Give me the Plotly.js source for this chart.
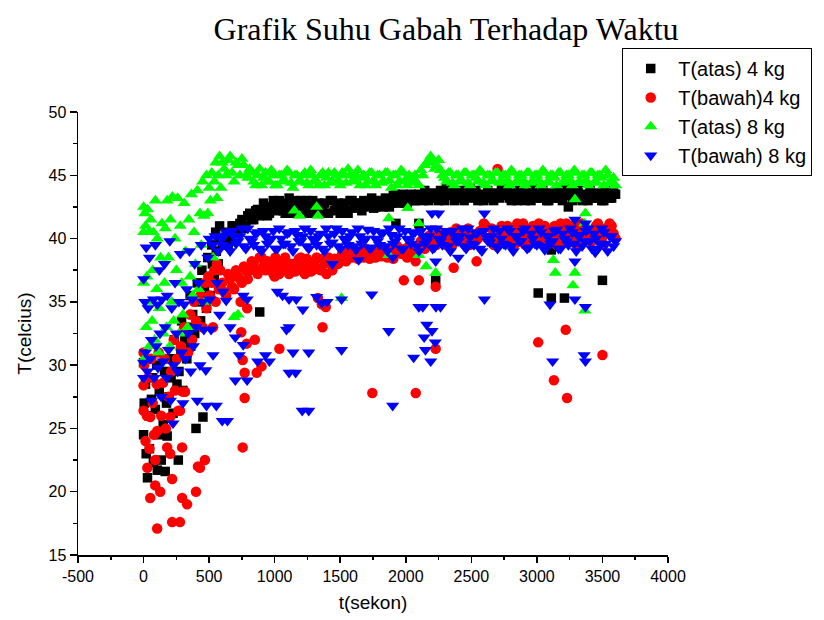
<!DOCTYPE html>
<html><head><meta charset="utf-8">
<script src="https://cdn.plot.ly/plotly-3.0.1.min.js"></script>
<style>html,body{margin:0;padding:0;background:#fff}#chart{width:824px;height:620px}</style>
</head><body><div id="chart"></div>
<script>
// shared time axes for the steady part (seconds)
const tLate = [
 600,630,660,690,720,750,780,810,840,870,
 900,930,960,990,1020,1050,1080,1110,1140,1170,
 1200,1230,1260,1290,1320,1350,1380,1410,1440,1470,
 1500,1530,1560,1590,1620,1650,1680,1710,1740,1770,
 1800,1830,1860,1890,1920,1950,1980,2010,2040,2070,
 2100,2130,2160,2190,2220,2250,2280,2310,2340,2370,
 2400,2430,2460,2490,2520,2550,2580,2610,2640,2670,
 2700,2730,2760,2790,2820,2850,2880,2910,2940,2970,
 3000,3030,3060,3090,3120,3150,3180,3210,3240,3270,
 3300,3330,3360,3390,3420,3450,3480,3510,3540,3570,
 3600];
const tLate2 = [
 615,645,675,705,735,765,795,825,855,885,
 915,945,975,1005,1035,1065,1095,1125,1155,1185,
 1215,1245,1275,1305,1335,1365,1395,1425,1455,1485,
 1515,1545,1575,1605,1635,1665,1695,1725,1755,1785,
 1815,1845,1875,1905,1935,1965,1995,2025,2055,2085,
 2115,2145,2175,2205,2235,2265,2295,2325,2355,2385,
 2415,2445,2475,2505,2535,2565,2595,2625,2655,2685,
 2715,2745,2775,2805,2835,2865,2895,2925,2955,2985,
 3015,3045,3075,3105,3135,3165,3195,3225,3255,3285,
 3315,3345,3375,3405,3435,3465,3495,3525,3555,3585];

// T(atas) 4 kg
const blackLate = [
 39.5,40.5,40.0,41.0,40.5,41.5,41.0,42.0,41.5,42.3,
 42.0,42.5,42.0,43.0,42.3,42.8,42.0,43.2,42.5,42.0,
 43.0,42.5,42.0,43.0,42.3,42.0,42.8,42.0,43.0,42.5,
 42.0,42.8,42.0,43.0,42.5,42.8,43.0,42.5,43.2,42.5,
 43.0,42.5,43.0,42.8,43.5,43.0,43.5,42.8,43.5,43.0,
 43.5,43.0,43.5,43.2,43.5,43.0,43.5,44.0,43.5,43.0,
 43.5,43.2,43.5,44.0,43.5,43.0,43.5,43.2,43.5,43.0,
 43.5,44.0,43.5,43.2,43.5,43.0,43.5,43.0,43.5,44.0,
 43.5,43.2,43.5,43.0,43.5,43.2,43.5,44.0,43.5,43.0,
 43.5,43.2,43.5,43.0,43.5,43.2,43.5,43.0,43.5,43.2,
 43.5];
const blackLate2 = [
 40.0,39.5,41.0,40.5,41.2,40.8,41.8,41.5,42.2,41.8,
 42.8,41.8,42.5,42.2,43.0,42.2,42.6,42.0,43.0,42.4,
 42.2,43.0,42.4,42.0,42.8,42.5,42.0,43.0,42.2,42.8,
 42.5,42.2,43.0,42.4,42.8,42.2,42.8,43.0,42.4,43.0,
 42.6,43.2,42.5,43.4,42.8,43.2,42.8,43.4,43.0,43.4,
 43.2,43.8,43.0,43.6,43.2,43.8,43.0,43.4,43.8,43.2,
 43.8,43.0,43.6,43.2,43.8,43.4,43.0,43.8,43.2,43.6,
 43.2,43.4,43.8,43.0,43.6,43.8,43.2,43.6,43.0,43.4,
 43.2,43.8,43.0,43.6,43.2,43.8,43.0,43.4,43.8,43.2,
 43.8,43.0,43.4,43.8,43.2,43.6,43.0,43.8,43.2,43.6];
const blackExtraT = [
 0,0,5,15,20,30,40,45,60,70,
 75,90,100,105,120,130,135,150,160,165,
 175,180,195,205,210,225,235,240,255,265,
 270,285,290,300,315,330,345,355,360,375,
 390,400,410,420,435,445,453,465,480,490,
 495,510,520,525,540,550,555,570,580,585,
 886,1925,2100,2228,3010,3110,3210,3500,3110,3240];
const blackExtraV = [
 24.5,30.2,27.0,28.5,23.0,21.1,26.0,23.4,27.3,29.0,
 22.3,26.5,30.0,21.7,28.0,24.5,22.5,25.3,29.5,21.6,
 27.0,24.4,27.5,30.5,29.0,26.2,32.0,30.5,28.5,22.5,
 29.5,31.0,33.5,28.0,32.0,30.5,33.0,35.5,31.5,34.0,
 32.5,25.0,36.5,35.0,33.5,37.5,25.9,36.0,34.5,38.5,
 37.0,35.5,39.5,38.0,37.0,40.5,39.0,38.0,41.0,40.0,
 34.2,41.2,41.2,36.7,35.7,35.3,35.3,36.7,39.1,42.5];

// T(bawah)4 kg
const redLate = [
 36.5,35.5,36.8,36.0,37.0,36.5,37.5,37.5,38.0,37.2,
 38.5,37.5,38.0,37.2,38.0,37.5,38.5,37.2,38.0,37.5,
 38.5,37.2,38.0,37.5,38.5,37.5,38.0,38.5,37.5,38.2,
 38.5,38.5,39.0,38.5,38.8,39.0,38.5,38.8,39.0,38.5,
 39.0,38.8,38.5,39.0,38.8,39.2,39.0,38.5,39.5,39.0,
 39.5,39.5,40.0,39.5,40.2,39.8,40.0,39.5,40.5,40.0,
 39.8,40.5,40.0,39.5,40.2,40.0,40.5,41.0,40.0,39.5,
 40.5,41.0,40.2,39.8,40.5,41.2,40.0,39.5,40.5,41.0,
 40.2,39.8,41.0,40.5,40.0,39.5,41.2,40.5,40.0,41.0,
 39.5,40.2,41.0,40.5,39.8,41.0,40.2,39.5,40.5,41.0,
 40.0];
const redLate2 = [
 35.8,37.2,36.2,37.5,36.8,37.8,36.8,38.2,37.5,38.5,
 37.8,38.2,37.5,38.5,37.2,38.2,37.8,38.0,37.4,38.4,
 37.8,38.4,37.4,38.2,37.6,38.4,37.2,38.0,38.4,38.0,
 38.8,38.2,38.6,39.2,38.4,38.6,39.2,38.4,38.8,39.2,
 38.6,39.2,38.8,38.4,39.4,38.8,39.2,39.4,38.8,39.4,
 39.8,39.2,40.2,39.8,39.5,40.5,39.8,40.2,39.5,40.8,
 40.2,39.6,40.8,40.2,39.8,40.6,41.2,40.0,40.8,40.2,
 39.8,40.6,41.0,40.2,39.6,40.8,41.2,40.2,39.8,40.6,
 41.2,40.0,40.6,39.8,41.0,40.4,39.8,41.2,40.6,40.0,
 40.8,41.2,40.0,39.8,40.6,41.2,40.0,40.8,41.2,40.4];
const redExtraT = [
 0,0,0,5,15,25,29,35,45,51,
 51,60,70,80,89,89,100,104,104,115,
 127,135,149,160,170,180,190,203,203,210,
 218,218,230,240,255,265,278,278,285,294,
 294,301,310,316,332,340,355,370,385,400,
 400,415,430,435,450,468,470,480,495,505,
 520,530,540,550,560,575,585,
 756,756,771,771,787,849,863,900,1036,1000,
 1360,1330,1390,1365,790,740,1745,2076,2228,1985,
 2100,2228,2365,2540,2075,3010,3130,3230,3220,3500,
 2700,745];
const redExtraV = [
 28.4,31.0,26.4,30.0,24.0,26.0,21.9,29.0,23.4,25.9,
 19.5,30.5,27.0,24.5,22.5,20.5,28.5,24.8,17.1,31.0,
 20.0,26.0,28.6,30.5,25.0,23.5,27.5,25.9,23.0,29.5,
 21.0,17.6,32.0,28.0,30.5,26.4,26.4,17.6,31.5,23.5,
 19.5,27.9,33.0,27.9,19.0,31.0,34.0,32.0,35.0,20.0,
 33.5,22.0,21.9,35.5,33.0,22.5,36.5,34.5,37.0,35.5,
 36.5,33.0,37.5,35.0,38.0,36.0,37.5,
 23.5,30.4,27.4,29.4,31.7,32.0,29.4,29.9,31.3,37.0,
 34.8,35.3,34.6,33.0,34.5,35.0,27.8,27.8,31.3,36.7,
 36.7,36.2,37.7,38.2,38.2,31.8,28.8,27.4,32.8,30.8,
 45.5,32.6];

// T(atas) 8 kg
const greenLate = [
 46.0,45.0,46.5,44.5,45.8,46.3,45.0,45.5,44.5,45.0,
 44.2,45.2,44.5,45.0,44.2,45.0,44.5,45.2,44.0,45.0,
 44.5,45.2,44.2,45.0,44.5,45.0,44.2,45.2,44.5,45.0,
 44.2,45.0,45.5,44.5,45.0,44.2,45.0,44.5,45.2,44.2,
 45.0,44.5,45.2,44.0,45.0,44.5,45.2,44.2,44.5,45.0,
 44.2,45.0,46.0,46.5,45.5,46.2,45.0,44.5,45.2,44.2,
 45.0,44.5,45.2,44.2,45.0,44.5,45.2,44.2,45.0,44.5,
 45.2,44.5,45.0,44.2,45.2,44.5,45.0,44.2,45.2,44.5,
 45.0,44.2,45.2,44.5,45.0,44.2,45.2,44.5,45.0,44.2,
 45.2,44.5,45.0,44.2,45.2,44.5,45.0,44.2,45.0,44.5,
 44.2];
const greenLate2 = [
 45.5,46.2,45.2,46.0,45.0,45.8,44.8,45.2,44.2,45.5,
 44.8,44.5,45.4,44.2,45.0,44.6,45.4,44.4,45.0,44.5,
 45.0,44.4,45.4,44.6,44.2,45.2,44.8,44.4,45.2,44.6,
 45.2,44.4,45.0,44.6,45.4,44.8,44.2,45.2,44.6,45.0,
 44.4,45.2,44.6,45.0,44.2,45.4,44.6,45.0,44.8,44.4,
 45.4,45.8,46.2,46.0,45.8,45.4,44.8,45.2,44.4,45.0,
 44.6,45.2,44.4,45.0,44.8,45.4,44.4,45.0,44.6,45.2,
 44.4,45.0,44.6,45.4,44.4,45.0,44.6,45.2,44.4,45.0,
 44.6,45.4,44.4,45.0,44.8,45.2,44.4,45.0,44.6,45.4,
 44.4,45.0,44.6,45.2,44.4,45.0,44.8,45.4,44.4,44.8];
const greenExtraT = [
 0,0,0,5,10,15,20,25,30,40,
 45,50,55,65,70,75,85,90,100,105,
 115,120,130,140,150,160,165,175,180,190,
 200,205,215,220,230,240,250,260,270,280,
 290,300,310,320,335,345,355,365,375,385,
 395,410,420,430,440,450,460,470,480,490,
 500,510,520,530,540,550,560,570,580,590,
 690,720,1510,1870,1870,2015,2100,2100,2155,2228,
 3125,3140,3290,3275,3365,3290,3370,3365,1150,1190,
 1320,1330];
const greenExtraV = [
 42.5,40.5,36.5,30.5,42.0,41.0,33.0,37.0,42.3,40.5,
 31.5,35.0,41.5,33.5,37.5,40.5,32.0,43.0,36.0,40.0,
 31.0,34.5,38.5,41.2,32.5,36.5,40.8,33.0,43.0,38.5,
 31.5,41.5,35.0,43.3,33.5,40.0,37.5,43.2,32.5,41.0,
 36.5,34.0,42.8,39.0,33.0,41.5,37.0,43.5,35.5,40.5,
 38.0,43.8,36.0,42.0,39.5,44.5,41.8,35.0,45.0,42.0,
 44.0,43.0,45.2,38.5,44.5,46.0,43.2,45.0,46.5,44.0,
 33.8,34.0,35.3,38.7,41.6,42.4,38.7,41.2,37.8,37.3,
 38.3,37.3,37.3,36.3,34.3,43.1,42.0,41.2,42.2,41.8,
 42.5,41.8];

// T(bawah) 8 kg
const blueLate = [
 39.5,40.5,39.0,40.2,39.8,40.8,39.2,40.0,39.5,40.5,
 39.0,40.2,39.8,40.6,39.2,40.0,39.6,40.5,39.0,40.3,
 39.8,40.8,39.2,40.0,39.5,40.4,39.0,40.2,39.7,40.8,
 39.2,40.0,39.5,40.5,39.1,40.2,39.8,40.7,39.3,40.0,
 39.5,40.5,39.0,40.3,39.8,40.8,39.2,40.0,39.6,40.5,
 39.0,40.2,39.8,40.8,39.3,40.0,39.5,40.6,39.0,40.2,
 39.8,40.8,39.2,40.1,39.5,40.5,39.0,40.2,39.7,40.8,
 39.2,40.0,39.5,40.6,39.0,40.2,39.8,40.8,39.3,40.0,
 39.5,40.5,39.1,40.2,39.8,40.7,39.2,40.0,39.5,40.5,
 39.0,40.3,39.8,40.8,39.2,40.0,39.6,40.5,39.0,40.2,
 39.8];
const blueLate2 = [
 40.2,39.4,40.6,39.6,40.2,39.4,40.8,39.8,40.4,39.2,
 40.6,39.6,40.0,39.2,40.8,39.6,40.4,39.4,40.6,39.8,
 40.2,39.4,40.6,39.8,40.2,39.2,40.8,39.6,40.4,39.4,
 40.6,39.8,40.2,39.4,40.8,39.6,40.0,39.2,40.6,39.8,
 40.4,39.4,40.8,39.6,40.2,39.2,40.6,39.8,40.4,39.4,
 40.6,39.6,40.2,39.2,40.8,39.8,40.4,39.4,40.6,39.8,
 40.2,39.4,40.8,39.6,40.4,39.2,40.6,39.8,40.2,39.4,
 40.6,39.6,40.8,39.4,40.2,39.8,40.6,39.2,40.4,39.6,
 40.8,39.4,40.2,39.6,40.6,39.2,40.4,39.8,40.8,39.6,
 40.2,39.4,40.6,39.8,40.4,39.2,40.8,39.6,40.2,39.4];
const blueExtraT = [
 0,0,0,10,15,20,30,35,45,50,
 60,60,75,80,90,95,105,110,120,125,
 135,140,150,160,165,175,180,190,200,205,
 215,225,230,240,250,260,270,280,290,300,
 310,320,330,340,350,360,370,380,390,400,
 410,420,430,440,450,460,475,480,490,500,
 505,515,525,530,545,555,560,570,580,590,
 605,630,660,700,730,760,790,760,700,790,
 870,930,960,600,640,1020,1060,1110,1110,1090,
 1165,1215,1140,1260,1110,1160,1210,1260,1320,1360,
 1400,1510,1510,1740,1870,1900,2100,2130,2230,2265,
 2160,2200,2140,2225,2150,2060,2190,2600,2200,2250,
 2600,1900,2228,2400,3120,3370,3360,3100,3290,3370,
 3290,3370,3290,3445,1440,1640];
const blueExtraV = [
 36.8,30.2,29.0,35.0,31.0,39.3,29.5,34.5,38.5,30.5,
 32.0,27.2,35.2,29.0,39.5,31.5,34.8,29.8,37.5,32.5,
 27.5,35.2,30.3,38.0,33.0,29.0,35.5,31.2,39.8,27.2,
 34.5,25.4,30.0,36.5,32.5,29.5,35.0,38.8,31.0,27.0,
 34.8,30.5,36.0,32.5,39.0,29.5,35.2,31.5,38.0,33.0,
 27.2,36.5,30.0,39.5,35.0,32.8,29.6,26.8,38.5,40.0,
 35.2,32.8,39.5,30.8,40.2,26.8,36.5,39.0,34.0,40.0,
 35.8,35.1,33.0,32.2,30.8,35.5,35.2,31.6,28.8,28.8,
 30.3,30.8,30.3,25.6,25.6,35.8,35.5,35.2,33.0,32.8,
 35.2,34.4,31.0,31.0,29.4,29.4,26.4,26.4,35.4,34.9,
 35.0,31.2,35.2,35.6,32.7,26.8,34.6,34.6,34.6,34.6,
 33.2,32.7,32.2,31.8,31.2,30.6,30.3,35.2,42.0,42.0,
 42.0,38.5,38.2,38.5,30.3,30.3,30.8,34.8,35.2,34.6,
 41.5,41.2,38.2,38.9,38.0,38.3];

const seriesNames = ['T(atas) 4 kg', 'T(bawah)4 kg', 'T(atas) 8 kg', 'T(bawah) 8 kg'];

const xTickVals = [-500,0,500,1000,1500,2000,2500,3000,3500,4000];
const xTickText = ['-500','0','500','1000','1500','2000','2500','3000','3500','4000'];
const xMinorVals = [-250,250,750,1250,1750,2250,2750,3250,3750];
const yTickVals = [15,20,25,30,35,40,45,50];
const yTickText = ['15','20','25','30','35','40','45','50'];
const yMinorVals = [17.5,22.5,27.5,32.5,37.5,42.5,47.5];

function makeTrace(name, extraT, extraV, lateV, late2V, symbol, color, size) {
  return {
    type: 'scatter', mode: 'markers', name: name,
    x: extraT.concat(tLate, tLate2), y: extraV.concat(lateV, late2V),
    marker: {symbol: symbol, color: color, size: size, line: {width: 0}},
    cliponaxis: false
  };
}

const data = [
  makeTrace(seriesNames[0], blackExtraT, blackExtraV, blackLate, blackLate2, 'square', '#000000', 9.5),
  makeTrace(seriesNames[1], redExtraT, redExtraV, redLate, redLate2, 'circle', '#FF0000', 10.5),
  makeTrace(seriesNames[2], greenExtraT, greenExtraV, greenLate, greenLate2, 'triangle-up', '#00FF00', 11.5),
  makeTrace(seriesNames[3], blueExtraT, blueExtraV, blueLate, blueLate2, 'triangle-down', '#0000FF', 11.5)
];

const axisCommon = {
  ticks: 'outside', ticklen: 6, tickwidth: 1.5, tickcolor: '#000',
  showline: true, linewidth: 1.5, linecolor: '#000',
  showgrid: false, zeroline: false,
  tickfont: {size: 16, color: '#000'}
};

const layout = {
  width: 824, height: 620,
  margin: {l: 78, r: 153, t: 112, b: 65},
  paper_bgcolor: '#fff', plot_bgcolor: '#fff',
  font: {family: 'Arial, "Liberation Sans", sans-serif', color: '#000'},
  showlegend: true,
  title: {
    text: 'Grafik Suhu Gabah Terhadap Waktu',
    font: {family: '"Times New Roman", "Liberation Serif", serif', size: 32, color: '#000'},
    xref: 'container', x: 0.5413, xanchor: 'center',
    yref: 'container', y: 0.953, yanchor: 'middle'
  },
  xaxis: Object.assign({}, axisCommon, {
    range: [-500, 4000], tickmode: 'array', tickvals: xTickVals, ticktext: xTickText,
    minor: {tickmode: 'array', tickvals: xMinorVals, ticks: 'outside', ticklen: 3.5, tickwidth: 1.5, tickcolor: '#000', showgrid: false},
    title: {text: 't(sekon)', font: {size: 19, color: '#000'}, standoff: 12}
  }),
  yaxis: Object.assign({}, axisCommon, {
    range: [15, 50], tickmode: 'array', tickvals: yTickVals, ticktext: yTickText, ticklen: 7,
    minor: {tickmode: 'array', tickvals: yMinorVals, ticks: 'outside', ticklen: 3.5, tickwidth: 1.5, tickcolor: '#000', showgrid: false},
    title: {text: 'T(celcius)', font: {size: 19, color: '#000'}, standoff: 12}
  }),
  legend: {
    xref: 'paper', yref: 'paper',
    x: 0.9224, y: 1.1445, xanchor: 'left', yanchor: 'top',
    bordercolor: '#000', borderwidth: 1, bgcolor: 'rgba(255,255,255,0)',
    font: {size: 20, color: '#000'}, itemwidth: 45, tracegroupgap: 0
  }
};

Plotly.newPlot('chart', data, layout, {displayModeBar: false, staticPlot: true});
</script>
</body></html>
